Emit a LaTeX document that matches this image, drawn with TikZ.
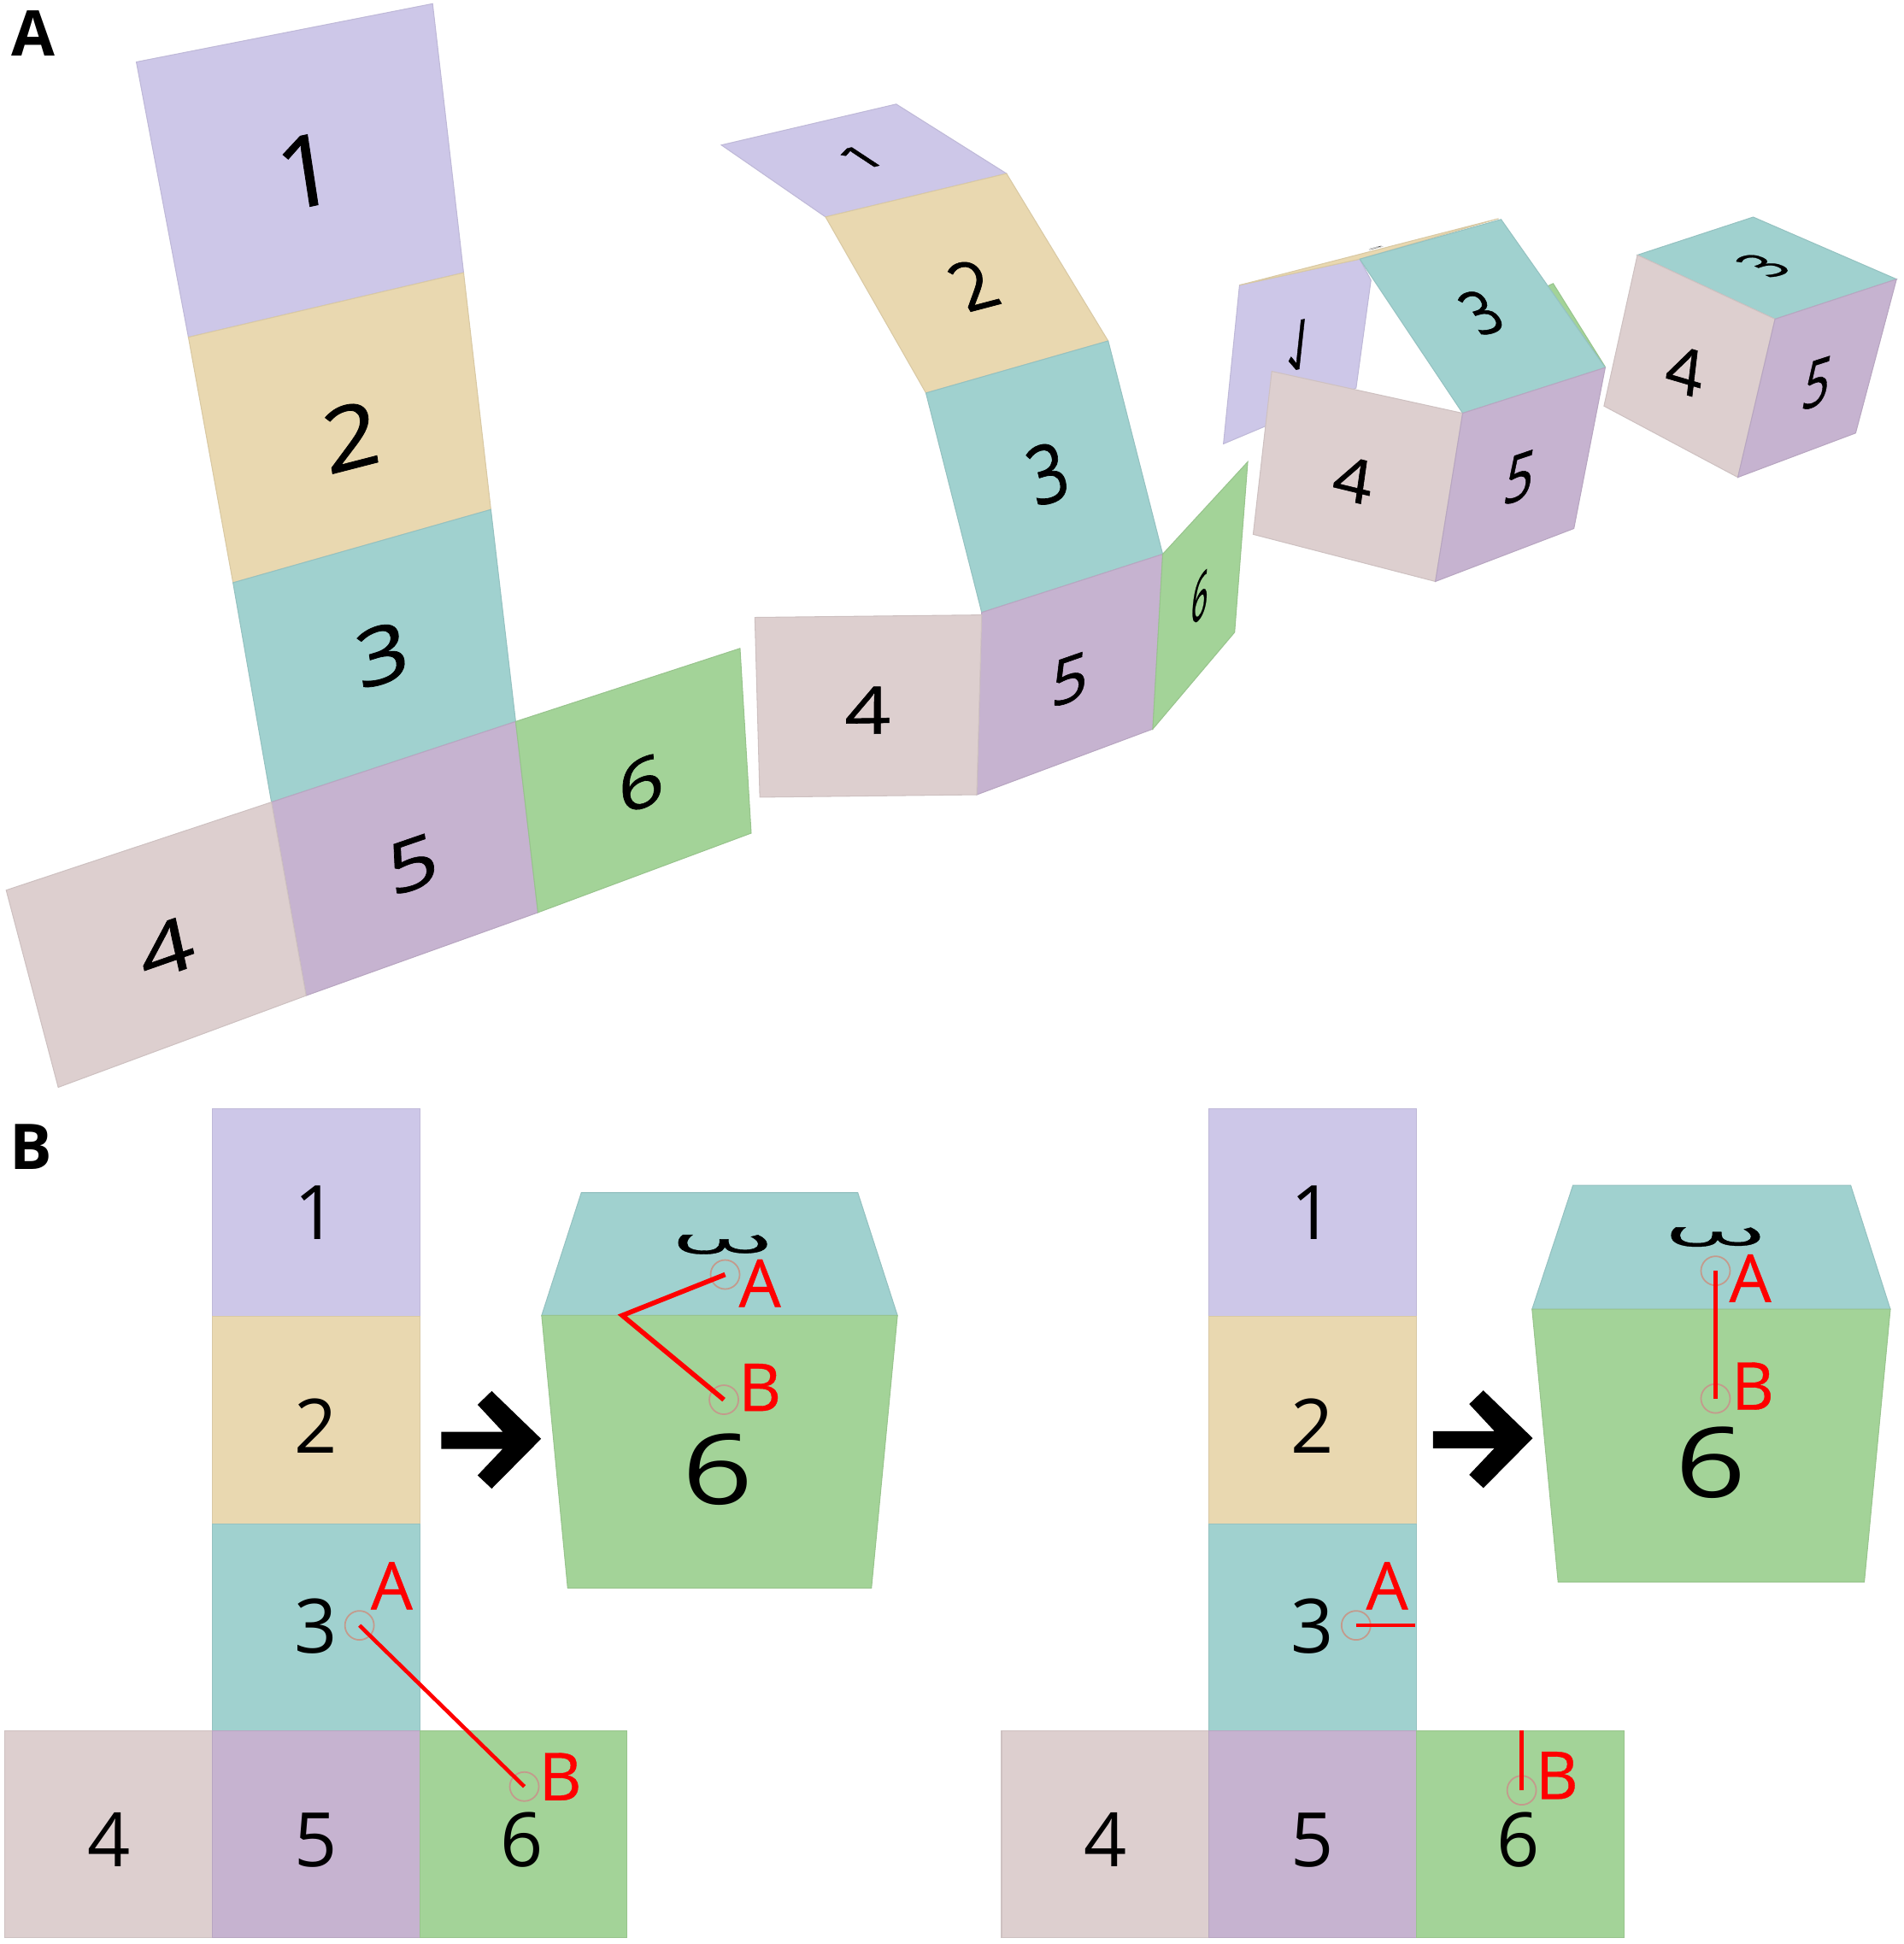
\documentclass[tikz,border=0pt]{standalone}
\usepackage{fontspec}
\setmainfont{Open Sans}
\usetikzlibrary{calc, positioning}
\definecolor{faceA}{HTML}{CDC7E8}
\definecolor{faceB}{HTML}{E9D8B0}
\definecolor{faceC}{HTML}{A0D1CF}
\definecolor{faceD}{HTML}{DDCFCF}
\definecolor{faceE}{HTML}{C6B3D0}
\definecolor{faceF}{HTML}{A3D398}
\definecolor{markline}{HTML}{C49A8C}
\tikzset{
  one/.style={fill=faceA, draw=faceA!93!black, line width=0.3pt},
  two/.style={fill=faceB, draw=faceB!93!black, line width=0.3pt},
  three/.style={fill=faceC, draw=faceC!93!black, line width=0.3pt},
  four/.style={fill=faceD, draw=faceD!93!black, line width=0.3pt},
  five/.style={fill=faceE, draw=faceE!93!black, line width=0.3pt},
  six/.style={fill=faceF, draw=faceF!93!black, line width=0.3pt},
  digit/.style={inner sep=0pt, font=\fontsize{25}{25}\selectfont},
  heavydigit/.style={inner sep=0pt, font=\fontsize{25}{25}\selectfont\addfontfeature{FakeBold=0.7}},
  redlabel/.style={inner sep=0pt, red, font=\fontsize{22}{22}\selectfont\addfontfeature{FakeBold=0.5}},
  panel/.style={inner sep=0pt, font=\fontsize{21}{21}\selectfont\bfseries},
  ptmark/.style={circle, draw=markline, line width=0.5pt, inner sep=0pt, minimum size=3.4mm},
  redline/.style={red, line width=1.3pt}
}
\begin{document}
\begin{tikzpicture}[x=0.14505mm, y=-0.14509mm]
\useasboundingbox (0,0) rectangle (1536,1568);
% Panel letters
\node[panel] (panelA) at (27,27) {A};
\node[panel] (panelB) at (25,925) {B};
% Flat net, tilted
\draw[one] (110,50) -- (349,3) -- (374,220) -- (152,272) -- cycle;
\draw[two] (152,272) -- (374,220) -- (396,411) -- (188,470) -- cycle;
\draw[three] (188,470) -- (396,411) -- (416,582) -- (219,647) -- cycle;
\draw[five] (219,647) -- (416,582) -- (434,736) -- (247,803) -- cycle;
\draw[four] (5,718) -- (219,647) -- (247,803) -- (47,877) -- cycle;
\draw[six] (416,582) -- (597,523) -- (606,672) -- (434,736) -- cycle;
\node[heavydigit, cm={1.376,.296,-.2,1.31,(0,0)}] (flatone) at (247,138) {1};
\node[heavydigit, cm={1.284,.331,-.173,1.161,(0,0)}] (flattwo) at (283,352) {2};
\node[heavydigit, cm={1.209,.37,-.152,1.039,(0,0)}] (flatthree) at (308,528) {3};
\node[heavydigit, cm={1.236,.433,-.209,.94,(0,0)}] (flatfour) at (134,765) {4};
\node[heavydigit, cm={1.146,.394,-.137,.925,(0,0)}] (flatfive) at (333,697) {5};
\node[heavydigit, cm={1.054,.367,-.081,.904,(0,0)}] (flatsix) at (517,632) {6};
% Half folded
\draw[one] (582,117) -- (723,84) -- (812,140) -- (666,175) -- cycle;
\draw[two] (666,175) -- (812,140) -- (894,275) -- (747,317) -- cycle;
\draw[three] (747,317) -- (894,275) -- (938,447) -- (792,494) -- cycle;
\draw[five] (792,494) -- (938,447) -- (930,588) -- (788,641) -- cycle;
\draw[four] (609,498) -- (792,496) -- (788,641) -- (613,643) -- cycle;
\draw[six] (938,447) -- (1006.6,372.5) -- (996,510) -- (930,588) -- cycle;
\node[heavydigit, cm={.857,.203,-.516,.34,(0,0)}] (halfone) at (695,127) {1};
\node[heavydigit, cm={.875,.23,-.487,.827,(0,0)}] (halftwo) at (785,230) {2};
\node[heavydigit, cm={.875,.266,-.266,1.042,(0,0)}] (halfthree) at (845,382) {3};
\node[heavydigit, cm={1.069,.018,0,.872,(0,0)}] (halffour) at (700,573) {4};
\node[heavydigit, cm={.86,.299,.036,.86,(0,0)}] (halffive) at (863,548) {5};
\node[heavydigit, cm={.4,.454,.054,.83,(0,0)}] (halfsix) at (968,482) {6};
% Nearly closed
\draw[one] (1000,230) -- (1097,209) -- (1106,226) -- (1094,313) -- (987,358) -- cycle;
\draw[two] (1000,230) -- (1209,176.3) -- (1097,209) -- cycle;
\draw[six] (1248,231) -- (1253,228.7) -- (1295,296) -- cycle;
\node[digit, cm={.4,.1,-.02,.02,(0,0)}] (neartwo) at (1110,200) {2};
\draw[three] (1097,209) -- (1211,177) -- (1295,296.5) -- (1180,333.3) -- cycle;
\node[heavydigit, cm={.6,.12,-.1,-.93,(0,0)}] (nearone) at (1048,278) {1};
\draw[four] (1026,299.5) -- (1180,333.3) -- (1158,469) -- (1011,431) -- cycle;
\draw[five] (1180,333.3) -- (1295,296.5) -- (1269.7,426.3) -- (1158,469) -- cycle;
\node[heavydigit, cm={.687,.209,-.501,.728,(0,0)}] (nearthree) at (1195,252) {3};
\node[heavydigit, cm={.9,-.218,.112,.797,(0,0)}] (nearfour) at (1091.5,387) {4};
\node[heavydigit, cm={.681,.23,.136,.9,(0,0)}] (nearfive) at (1226,385) {5};
% Closed cube
\draw[three] (1321,205.7) -- (1414.4,175.1) -- (1530,225.2) -- (1432,257.4) -- cycle;
\draw[four] (1321,205.7) -- (1432,257.4) -- (1402,385) -- (1294,327.5) -- cycle;
\draw[five] (1432,257.4) -- (1530,225.2) -- (1497,349.3) -- (1402,385) -- cycle;
\node[heavydigit, cm={.62,.2,-.72,.33,(0,0)}] (cubethree) at (1422.5,214) {3};
\node[heavydigit, cm={.85,-.25,.1,.85,(0,0)}] (cubefour) at (1359,299) {4};
\node[heavydigit, cm={.62,.2,.16,.9,(0,0)}] (cubefive) at (1466,309) {5};
% Square nets and cubes in panel B
\foreach \x/\nm in {0/l, 804/r} {
  \begin{scope}[xshift=\x*0.14505mm]
  \draw[one] (171,894) rectangle (339,1062);
  \draw[two] (171,1062) rectangle (339,1229);
  \draw[three] (171,1229) rectangle (339,1396);
  \draw[four] (4,1396) rectangle (171,1563);
  \draw[five] (171,1396) rectangle (339,1563);
  \draw[six] (339,1396) rectangle (506,1563);
  \node[digit] (\nm one) at (255,978) {1};
  \node[digit] (\nm two) at (255,1150) {2};
  \node[digit] (\nm three) at (255,1312) {3};
  \node[digit] (\nm four) at (88,1484) {4};
  \node[digit] (\nm five) at (255,1484) {5};
  \node[digit] (\nm six) at (421,1484) {6};
  \end{scope}
}
% Arrows
\foreach \x/\y in {0/0, 800/0.5} {
  \fill[black, shift={(\x*0.14505mm,\y*0.14509mm)}] (356,1154.8) -- (405.6,1154.8) -- (385.3,1133) -- (396.7,1122) -- (436.5,1160.5)
    -- (396.7,1200.7) -- (385.3,1190) -- (405.6,1168.6) -- (356,1168.6) -- cycle;
}
% Left cube
\draw[three] (469,962) -- (692,962) -- (724,1061) -- (437,1061) -- cycle;
\draw[six] (437,1061) -- (724,1061) -- (703,1281) -- (458,1281) -- cycle;
\node[heavydigit, cm={0,-.55,1.6,0,(0,0)}] (lefttop) at (583,1004) {3};
\node[digit, cm={1.65,0,0,1.3,(0,0)}] (leftfront) at (579,1185) {6};
% Right cube
\draw[three] (1269,956) -- (1493,956) -- (1525,1056) -- (1236,1056) -- cycle;
\draw[six] (1236,1056) -- (1525,1056) -- (1504,1276) -- (1257,1276) -- cycle;
\node[heavydigit, cm={0,-.55,1.6,0,(0,0)}] (righttop) at (1384,998) {3};
\node[digit, cm={1.65,0,0,1.3,(0,0)}] (rightfront) at (1380,1180) {6};
% Points and paths, left pair
\node[ptmark] (netAl) at (290,1311) {};
\node[ptmark] (netBl) at (423,1441) {};
\draw[redline] (netAl.center) -- (netBl.center);
\node[redlabel] (lblAl) at (316,1279) {A};
\node[redlabel] (lblBl) at (452,1433) {B};
\node[ptmark] (cubeAl) at (585,1028) {};
\node[ptmark] (cubeBl) at (584,1129) {};
\coordinate (bendl) at (502,1061);
\draw[redline, line width=1.6pt] (cubeAl.center) -- (bendl) -- (cubeBl.center);
\node[redlabel] (lblCl) at (613,1035) {A};
\node[redlabel] (lblDl) at (613,1119) {B};
% Points and paths, right pair
\node[ptmark] (netAr) at (1094,1311) {};
\coordinate (edgeA) at (1142,1311);
\draw[redline] (netAr.center) -- (edgeA);
\node[ptmark] (netBr) at (1227.6,1444) {};
\coordinate (edgeB) at (1227.6,1396);
\draw[redline] (netBr.center) -- (edgeB);
\node[redlabel] (lblAr) at (1119,1279) {A};
\node[redlabel] (lblBr) at (1256,1432) {B};
\node[ptmark] (cubeAr) at (1384,1025) {};
\node[ptmark] (cubeBr) at (1384,1128) {};
\draw[redline, line width=1.6pt] (cubeAr.center) -- (cubeBr.center);
\node[redlabel] (lblCr) at (1412,1031) {A};
\node[redlabel] (lblDr) at (1414,1118) {B};
\end{tikzpicture}
\end{document}
